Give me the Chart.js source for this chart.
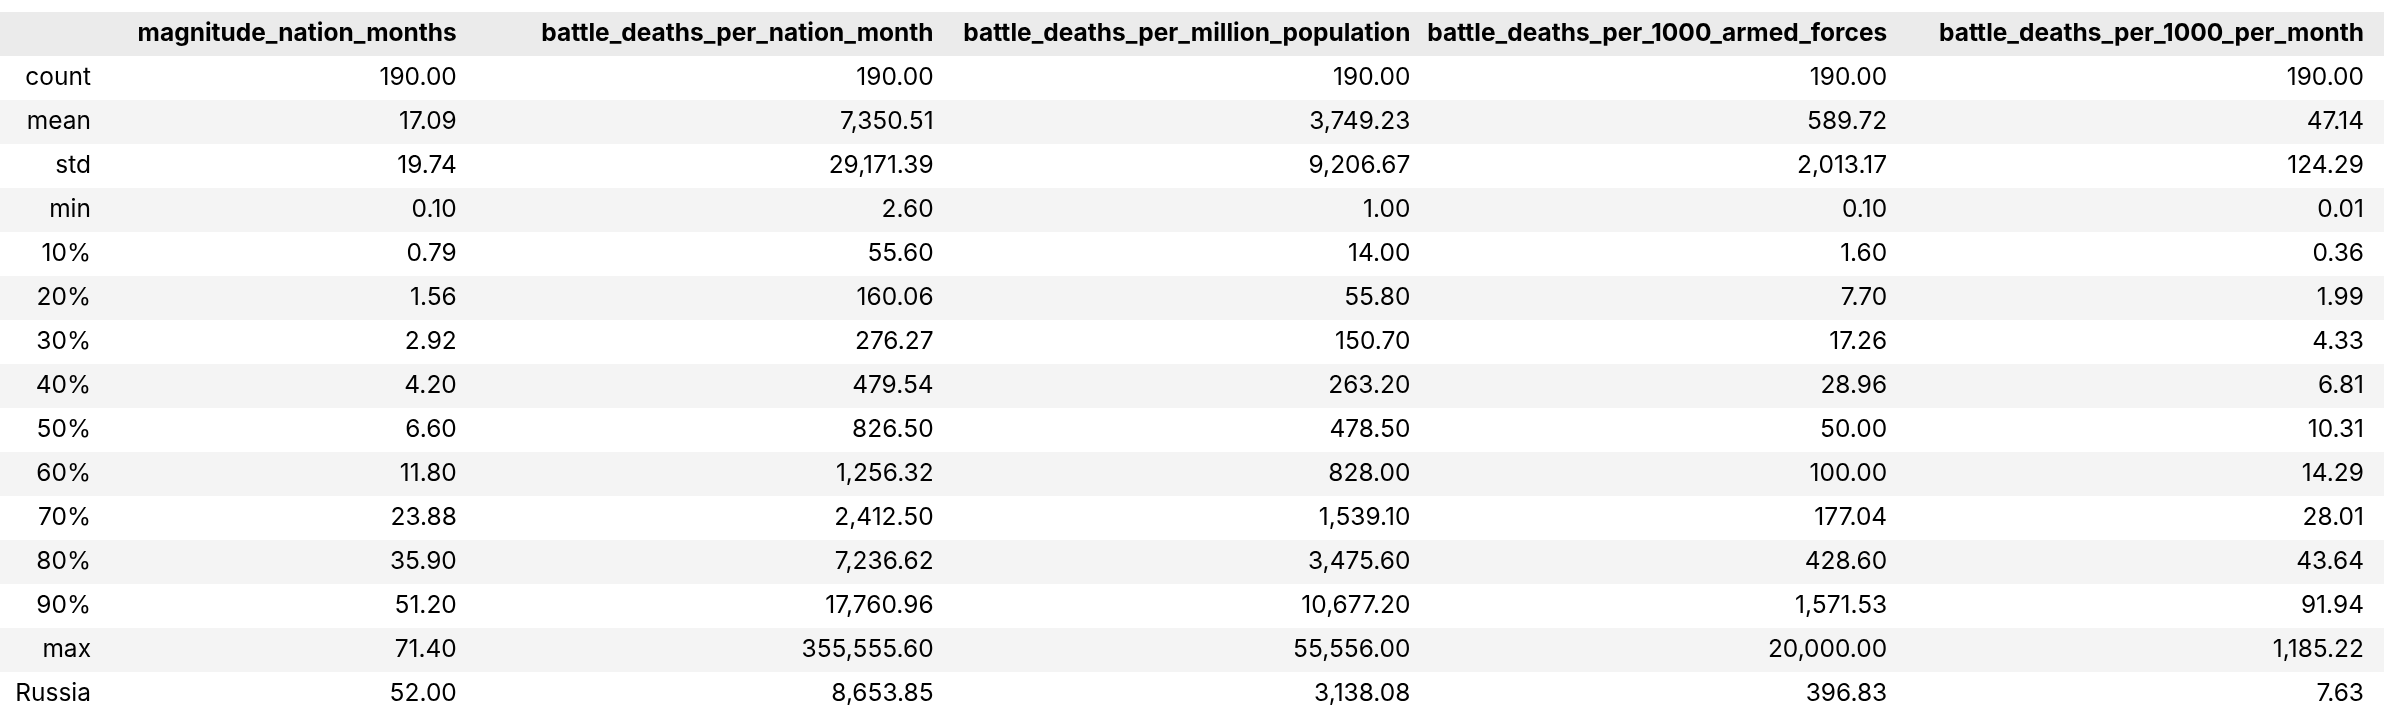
<!DOCTYPE html>
<html>
<head>
<meta charset="utf-8">
<script src="https://cdn.jsdelivr.net/npm/chart.js@4/dist/chart.umd.min.js"></script>
<style>
body{margin:0;background:#fff;}
</style>
</head>
<body>
<canvas id="myChart" width="2384" height="716"></canvas>
<script>
var columns = ['magnitude_nation_months','battle_deaths_per_nation_month','battle_deaths_per_million_population','battle_deaths_per_1000_armed_forces','battle_deaths_per_1000_per_month'];
var rowLabels = ['count','mean','std','min','10%','20%','30%','40%','50%','60%','70%','80%','90%','max','Russia'];

var magnitudeNationMonths = [190, 17.09, 19.74, 0.10, 0.79, 1.56, 2.92, 4.20, 6.60, 11.80, 23.88, 35.90, 51.20, 71.40, 52.00];
var deathsPerNationMonth = [190, 7350.51, 29171.39, 2.60, 55.60, 160.06, 276.27, 479.54, 826.50, 1256.32, 2412.50, 7236.62, 17760.96, 355555.60, 8653.85];
var deathsPerMillion = [190, 3749.23, 9206.67, 1.00, 14.00, 55.80, 150.70, 263.20, 478.50, 828.00, 1539.10, 3475.60, 10677.20, 55556.00, 3138.08];
var deathsPer1000Forces = [190, 589.72, 2013.17, 0.10, 1.60, 7.70, 17.26, 28.96, 50.00, 100.00, 177.04, 428.60, 1571.53, 20000.00, 396.83];
var deathsPer1000Month = [190, 47.14, 124.29, 0.01, 0.36, 1.99, 4.33, 6.81, 10.31, 14.29, 28.01, 43.64, 91.94, 1185.22, 7.63];

var seriesArr = [magnitudeNationMonths, deathsPerNationMonth, deathsPerMillion, deathsPer1000Forces, deathsPer1000Month];
var yLabels = ['header'].concat(rowLabels);

var points = [];
for (var c = 0; c < columns.length; c++) {
  for (var r = 0; r < rowLabels.length; r++) {
    points.push({x: columns[c], y: rowLabels[r], v: seriesArr[c][r]});
  }
}

function fmt(v){
  return v.toLocaleString('en-US',{minimumFractionDigits:2, maximumFractionDigits:2});
}

var FONT = '24.5px Inter, "Noto Sans", sans-serif';
var BOLD = 'bold 24.5px Inter, "Noto Sans", sans-serif';

var tablePlugin = {
  id: 'tablePlugin',
  beforeDatasetsDraw: function(chart){
    var ctx = chart.ctx, y = chart.scales.y, area = chart.chartArea;
    var band = (area.bottom - area.top) / yLabels.length;
    ctx.save();
    for (var i = 0; i < yLabels.length; i++) {
      var py = y.getPixelForValue(i);
      if (i === 0) ctx.fillStyle = '#ebebeb';
      else if (i % 2 === 0) ctx.fillStyle = '#f4f4f4';
      else continue;
      ctx.fillRect(0, py - band / 2, chart.width, band);
    }
    ctx.restore();
  },
  afterDatasetsDraw: function(chart){
    var ctx = chart.ctx, x = chart.scales.x, y = chart.scales.y;
    var half = x.width / columns.length / 2 - 20;
    ctx.save();
    ctx.textBaseline = 'middle';
    ctx.textAlign = 'right';
    // header
    ctx.font = BOLD;
    ctx.fillStyle = '#000';
    var hy = y.getPixelForValue(0);
    for (var c = 0; c < columns.length; c++) {
      ctx.fillText(columns[c], x.getPixelForValue(c) + half, hy);
    }
    // row labels
    ctx.font = FONT;
    for (var r = 0; r < rowLabels.length; r++) {
      ctx.fillText(rowLabels[r], 91, y.getPixelForValue(r + 1));
    }
    // cells
    var meta = chart.getDatasetMeta(0);
    meta.data.forEach(function(el, idx){
      ctx.fillText(fmt(points[idx].v), el.x + half, el.y);
    });
    ctx.restore();
  }
};

Chart.defaults.devicePixelRatio = 1;
new Chart(document.getElementById('myChart'), {
  type: 'scatter',
  data: {
    datasets: [{
      data: points,
      pointRadius: 0,
      pointHoverRadius: 0
    }]
  },
  options: {
    responsive: false,
    animation: false,
    layout: {padding: {top: 12, left: 0, right: 0, bottom: 0}},
    plugins: {legend: {display: false}, tooltip: {enabled: false}},
    scales: {
      x: {type: 'category', labels: columns, offset: true, display: false},
      y: {type: 'category', labels: yLabels, offset: true, display: false}
    }
  },
  plugins: [tablePlugin]
});
</script>
</body>
</html>
